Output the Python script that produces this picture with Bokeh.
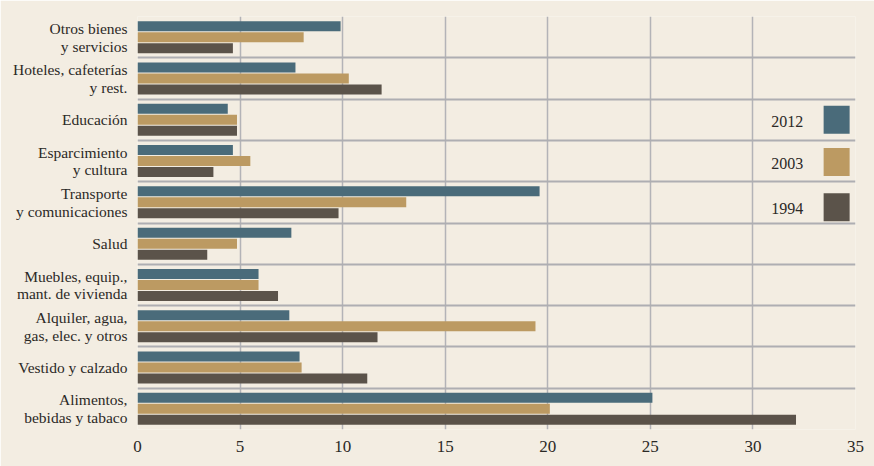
from bokeh.plotting import figure
from bokeh.models import FixedTicker, Range1d
from bokeh.core.properties import value
from bokeh.embed import file_html
from bokeh.resources import INLINE

# ---- data ----
categories = [
    "Otros bienes\ny servicios",
    "Hoteles, cafeterías\ny rest.",
    "Educación",
    "Esparcimiento\ny cultura",
    "Transporte\ny comunicaciones",
    "Salud",
    "Muebles, equip.,\nmant. de vivienda",
    "Alquiler, agua,\ngas, elec. y otros",
    "Vestido y calzado",
    "Alimentos,\nbebidas y tabaco",
]
v2012 = [9.9, 7.7, 4.4, 4.65, 19.6, 7.5, 5.9, 7.4, 7.9, 25.1]
v2003 = [8.1, 10.3, 4.85, 5.5, 13.1, 4.85, 5.9, 19.4, 8.0, 20.1]
v1994 = [4.65, 11.9, 4.85, 3.7, 9.8, 3.4, 6.85, 11.7, 11.2, 32.1]
years = ["2012", "2003", "1994"]
colors = ["#4a6b7a", "#bc9a62", "#5b534a"]
x_ticks = [0, 5, 10, 15, 20, 25, 30, 35]

BG = "#f3ede2"
TXT = "#2b2926"
FONT = "Liberation Serif"

p = figure(width=874, height=466, output_backend="svg", toolbar_location=None,
           x_range=Range1d(0, 35), y_range=Range1d(len(categories), 0),
           min_border_left=137, min_border_right=19, min_border_top=16,
           min_border_bottom=37)
p.background_fill_color = BG
p.border_fill_color = BG
p.outline_line_color = None

n = len(categories)
centers = [i + 0.5 for i in range(n)]
offsets = [-0.266, 0.0, 0.266]
for vals, off, col in zip([v2012, v2003, v1994], offsets, colors):
    p.hbar(y=[c + off for c in centers], left=0, right=vals, height=0.242,
           fill_color=col, line_color=None)

# legend (drawn manually: label left of swatch)
leg_rows = [2.5, 3.52, 4.62]
leg_x_sq = 34.08
leg_x_txt = 32.45
p.rect(x=[leg_x_sq] * 3, y=leg_rows, width=26, height=28,
       width_units="screen", height_units="screen",
       fill_color=colors, line_color=None)
p.text(x=[leg_x_txt] * 3, y=[r + 0.04 for r in leg_rows], text=years,
       text_align="right", text_baseline="middle",
       text_font=value(FONT), text_font_size="16px", text_color=TXT)

# axes
p.xaxis.ticker = FixedTicker(ticks=x_ticks)
p.xaxis.axis_line_color = None
p.xaxis.major_tick_line_color = None
p.xaxis.minor_tick_line_color = None
p.xaxis.major_label_standoff = 5
p.xaxis.major_label_text_font = FONT
p.xaxis.major_label_text_font_size = "17px"
p.xaxis.major_label_text_color = TXT

p.yaxis.ticker = FixedTicker(ticks=centers)
p.yaxis.major_label_overrides = {c: lab for c, lab in zip(centers, categories)}
p.yaxis.axis_line_color = None
p.yaxis.major_tick_line_color = None
p.yaxis.minor_tick_line_color = None
p.yaxis.major_label_standoff = 4
p.yaxis.major_label_text_font = FONT
p.yaxis.major_label_text_font_size = "15.5px"
p.yaxis.major_label_text_line_height = 1.05
p.yaxis.major_label_text_color = TXT

# grids
p.xgrid.ticker = FixedTicker(ticks=x_ticks[1:-1])
p.xgrid.grid_line_color = "#b3b3b7"
p.xgrid.grid_line_width = 1.5
p.ygrid.ticker = FixedTicker(ticks=list(range(1, n)))
p.ygrid.grid_line_color = "#aeaeb2"
p.ygrid.grid_line_width = 2

open("out.html", "w").write(file_html(p, INLINE))
